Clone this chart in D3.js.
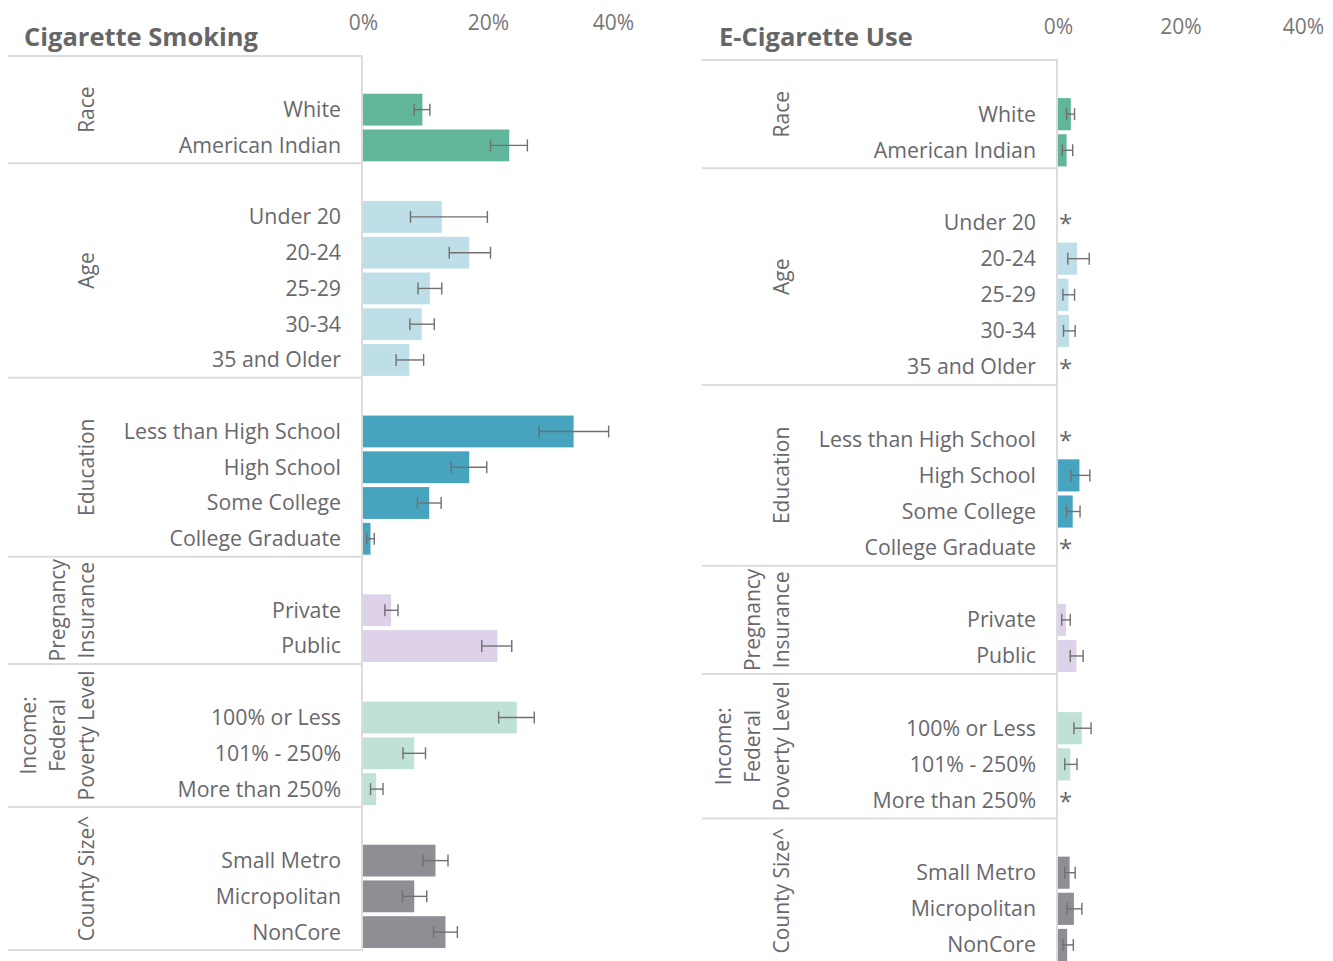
<!DOCTYPE html>
<html><head><meta charset="utf-8">
<script src="https://cdn.jsdelivr.net/npm/d3@7"></script>
<style>body{margin:0;background:#fff;} svg{display:block;font-family:"Open Sans",sans-serif;}</style>
</head><body><svg id="c" width="1333" height="961"></svg>
<script>
const groupLines = [["Race"],["Age"],["Education"],["Pregnancy","Insurance"],["Income:","Federal","Poverty Level"],["County Size^"]];
const categories = ["White","American Indian","Under 20","20-24","25-29","30-34","35 and Older","Less than High School","High School","Some College","College Graduate","Private","Public","100% or Less","101% - 250%","More than 250%","Small Metro","Micropolitan","NonCore"];
const categoryGroup = [0,0,1,1,1,1,1,2,2,2,2,3,3,4,4,4,5,5,5];
const groupColors = ["#61b59a","#bfdfe8","#47a4bf","#ddd2ea","#bfe1d6","#8e8f95"];
const cigValue = [9.5,23.4,12.6,17.0,10.7,9.4,7.4,33.7,17.0,10.6,1.2,4.5,21.5,24.6,8.2,2.1,11.6,8.2,13.2];
const cigLow   = [8.2,20.4,7.6,13.8,8.8,7.5,5.3,28.2,14.1,8.7,0.6,3.5,19.0,21.7,6.4,1.2,9.6,6.3,11.3];
const cigHigh  = [10.7,26.3,19.9,20.4,12.6,11.4,9.7,39.3,19.8,12.5,1.8,5.6,23.8,27.4,10.0,3.2,13.6,10.2,15.1];
const ecigValue = [2.1,1.4,null,3.1,1.7,1.8,null,null,3.5,2.4,null,1.3,3.0,3.9,2.0,null,1.9,2.6,1.5];
const ecigLow   = [1.4,0.7,null,1.6,0.8,0.9,null,null,2.1,1.4,null,0.6,2.0,2.6,1.1,null,1.1,1.5,0.8];
const ecigHigh  = [2.7,2.4,null,5.1,2.7,2.8,null,null,5.2,3.6,null,2.0,4.1,5.4,3.1,null,2.8,3.9,2.5];
const tickValues = [0,20,40];

const svg = d3.select("#c");

// row keys: one blank row at the start of each group, then its categories
const rowKeys = [];
groupLines.forEach((g, gi) => {
  rowKeys.push("blank" + gi);
  categories.forEach((c, ci) => { if (categoryGroup[ci] === gi) rowKeys.push(c); });
});

function drawPanel(cfg) {
  const g = svg.append("g");
  const y = d3.scaleBand().domain(rowKeys).range([cfg.top, cfg.bottom]).paddingInner(0.11).paddingOuter(0.055);
  const x = d3.scaleLinear().domain([0, 40]).range([cfg.x0, cfg.x40]);
  const step = y.step();
  const rowTop = k => cfg.top + rowKeys.indexOf(k) * step;
  const rowCenter = k => rowTop(k) + step / 2;

  // title
  g.append("text").attr("x", cfg.titleX).attr("y", cfg.titleY)
    .attr("font-size", 25.5).attr("font-weight", 700).attr("fill", "#666").text(cfg.title);

  // axis labels
  const axis = d3.axisTop(x).tickValues(tickValues).tickFormat(d => d + "%").tickSize(0).tickPadding(0);
  const ax = g.append("g").attr("transform", `translate(0,${cfg.tickY})`).call(axis);
  ax.select(".domain").remove();
  ax.selectAll("text").attr("font-size", 21).attr("fill", "#777").attr("font-family", "Open Sans").attr("dy", 0);

  // group separator lines
  const bounds = [cfg.top];
  groupLines.forEach((gl, gi) => {
    const members = categories.filter((c, ci) => categoryGroup[ci] === gi);
    bounds.push(rowTop(members[members.length - 1]) + step);
  });
  g.selectAll("line.sep").data(bounds).join("line")
    .attr("x1", cfg.lineLeft).attr("x2", cfg.x0 - 1)
    .attr("y1", d => d).attr("y2", d => d)
    .attr("stroke", "#dcdcdc").attr("stroke-width", 2);
  g.append("line").attr("x1", cfg.x0 - 1).attr("x2", cfg.x0 - 1)
    .attr("y1", cfg.top - 1).attr("y2", cfg.bottom + 1)
    .attr("stroke", "#dcdcdc").attr("stroke-width", 2);

  // group labels
  groupLines.forEach((lines, gi) => {
    const cy = (bounds[gi] + bounds[gi + 1]) / 2;
    lines.forEach((ln, j) => {
      const bx = cfg.groupX - (lines.length - 1 - j) * 29;
      g.append("text").attr("transform", `translate(${bx},${cy}) rotate(-90)`)
        .attr("text-anchor", "middle").attr("font-size", 21).attr("fill", "#68686d").text(ln);
    });
  });

  // category labels
  g.selectAll("text.cat").data(categories).join("text")
    .attr("x", cfg.labelX).attr("y", d => rowCenter(d)).attr("dy", "0.35em")
    .attr("text-anchor", "end").attr("font-size", 21.3).attr("fill", "#68686d").text(d => d);

  const idx = d3.range(categories.length);
  const shown = idx.filter(i => cfg.values[i] != null);
  const missing = idx.filter(i => cfg.values[i] == null);

  g.selectAll("rect.bar").data(shown).join("rect")
    .attr("x", x(0)).attr("y", i => y(categories[i]))
    .attr("width", i => x(cfg.values[i]) - x(0)).attr("height", y.bandwidth())
    .attr("fill", i => groupColors[categoryGroup[i]]);

  const eb = g.selectAll("g.err").data(shown).join("g")
    .attr("stroke", "#707070").attr("stroke-width", 1.4);
  eb.append("line").attr("x1", i => x(cfg.low[i])).attr("x2", i => x(cfg.high[i]))
    .attr("y1", i => rowCenter(categories[i])).attr("y2", i => rowCenter(categories[i]));
  eb.append("line").attr("x1", i => x(cfg.low[i])).attr("x2", i => x(cfg.low[i]))
    .attr("y1", i => rowCenter(categories[i]) - 6).attr("y2", i => rowCenter(categories[i]) + 6);
  eb.append("line").attr("x1", i => x(cfg.high[i])).attr("x2", i => x(cfg.high[i]))
    .attr("y1", i => rowCenter(categories[i]) - 6).attr("y2", i => rowCenter(categories[i]) + 6);

  g.selectAll("text.star").data(missing).join("text")
    .attr("x", x(0) + 1).attr("y", i => rowCenter(categories[i]) + 9.5)
    .attr("font-size", 24).attr("fill", "#666").text("*");
}

drawPanel({title: "Cigarette Smoking", titleX: 24, titleY: 46, tickY: 30, x0: 363, x40: 613,
  top: 56, bottom: 950, lineLeft: 8, labelX: 341, groupX: 94,
  values: cigValue, low: cigLow, high: cigHigh});
drawPanel({title: "E-Cigarette Use", titleX: 719, titleY: 46, tickY: 34, x0: 1058, x40: 1303,
  top: 60, bottom: 963, lineLeft: 702, labelX: 1036, groupX: 789,
  values: ecigValue, low: ecigLow, high: ecigHigh});
</script></body></html>
